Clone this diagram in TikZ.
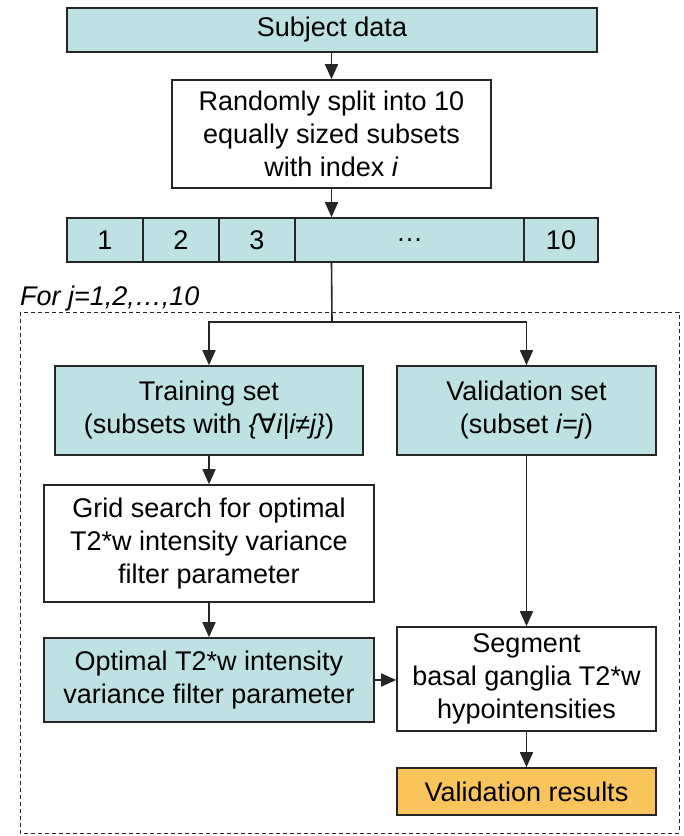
\documentclass[tikz,border=0pt]{standalone}
\usepackage{fontspec}
\setmainfont{Liberation Sans}
\newfontfamily\symfont{DejaVu Sans}
\usetikzlibrary{arrows.meta}
\definecolor{teal}{RGB}{190,226,228}
\definecolor{orng}{RGB}{250,196,92}
\begin{document}
\begin{tikzpicture}[x=1pt,y=-1pt,
  every node/.style={font=\fontsize{27}{33}\selectfont, inner sep=0pt, align=center},
  box/.style={draw=black!85, line width=1.6pt},
  tbox/.style={box, fill=teal},
  obox/.style={box, fill=orng},
  arr/.style={draw=black!85, line width=1.6pt, -{Triangle[length=15pt,width=13pt]}},
  ln/.style={draw=black!85, line width=1.6pt}]
\useasboundingbox (0,0) rectangle (684,836);
\draw[black!85, line width=1pt, dash pattern=on 4pt off 3pt] (20,312) rectangle (679,833);
\node[anchor=base west, font=\fontsize{27}{33}\selectfont\itshape] (forj) at (20,305) {For j=1,2,\dots,10};

\node[tbox, minimum width=530, minimum height=44] (subj) at (332,30) {Subject data};
\node[box, fill=white, minimum width=319, minimum height=108] (split) at (331.5,134) {Randomly split into 10\\equally sized subsets\\with index \textit{i}};

\node[tbox, minimum width=76, minimum height=44] (c1) at (105,240) {1};
\node[tbox, minimum width=76, minimum height=44] (c2) at (181,240) {2};
\node[tbox, minimum width=76, minimum height=44] (c3) at (257,240) {3};
\node[tbox, minimum width=229, minimum height=44] (cd) at (409.5,240) {\dots};
\node[tbox, minimum width=74, minimum height=44] (c10) at (561,240) {10};

\node[tbox, minimum width=308, minimum height=89] (train) at (209,410.5) {Training set\\(subsets with \textit{\{{\symfont\itshape ∀}i|i≠j\}})};
\node[tbox, minimum width=259, minimum height=89] (valid) at (526.5,410.5) {Validation set\\(subset \textit{i=j})};
\node[box, fill=white, minimum width=330, minimum height=117] (grid) at (209,543.5) {Grid search for optimal\\T2*w intensity variance\\filter parameter};
\node[tbox, minimum width=330, minimum height=84] (opt) at (209,680) {Optimal T2*w intensity\\variance filter parameter};
\node[box, fill=white, minimum width=259, minimum height=104] (seg) at (526.5,679) {Segment\\basal ganglia T2*w\\hypointensities};
\node[obox, minimum width=259, minimum height=47] (res) at (526.5,791.5) {Validation results};

\coordinate (sp) at (332,322);
\draw[arr] (subj.south -| split.north) -- (split.north);
\draw[arr] (split.south) -- (split.south |- cd.north);
\draw[ln] (split.south |- cd.south) -- (sp);
\draw[arr] (sp) -| (train.north);
\draw[arr] (sp) -| (valid.north);
\draw[arr] (train.south) -- (grid.north);
\draw[arr] (grid.south) -- (opt.north);
\draw[arr] (valid.south) -- (seg.north);
\draw[arr] (opt.east) -- (opt.east -| seg.west);
\draw[arr] (seg.south) -- (res.north);
\end{tikzpicture}
\end{document}
